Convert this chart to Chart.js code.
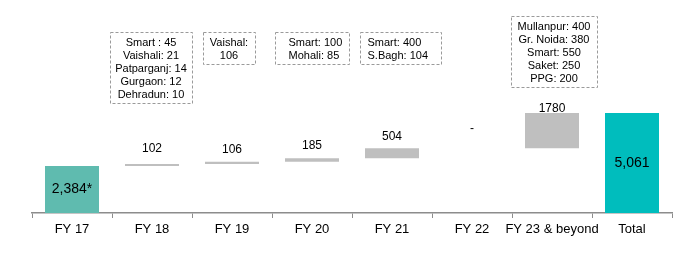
<!DOCTYPE html>
<html>
<head>
<meta charset="utf-8">
<script src="https://cdn.jsdelivr.net/npm/chart.js@4/dist/chart.umd.min.js"></script>
<style>
  html, body { margin: 0; padding: 0; background: #fff; }
  #wrap { width: 690px; height: 262px; }
</style>
</head>
<body>
<div id="wrap"><canvas id="myChart"></canvas></div>
<script>
const categories = ['FY 17', 'FY 18', 'FY 19', 'FY 20', 'FY 21', 'FY 22', 'FY 23 & beyond', 'Total'];
const values = [2384, 102, 106, 185, 504, 0, 1780, 5061];
const valueLabels = ['2,384*', '102', '106', '185', '504', '-', '1780', '5,061'];
const notes = [
  null,
  ['Smart : 45', 'Vaishali: 21', 'Patparganj: 14', 'Gurgaon: 12', 'Dehradun: 10'],
  ['Vaishal:', '106'],
  ['Smart: 100', 'Mohali: 85'],
  ['Smart: 400', 'S.Bagh: 104'],
  null,
  ['Mullanpur: 400', 'Gr. Noida: 380', 'Smart: 550', 'Saket: 250', 'PPG: 200'],
  null
];

// look of things (not data)
const barColors = ['#5FBBAF', '#BFBFBF', '#BFBFBF', '#BFBFBF', '#BFBFBF', '#BFBFBF', '#BFBFBF', '#00BDBD'];
const labelGap = [0, 9, 6, 6, 5, 13, -2, 0];
const noteBoxes = [
  null,
  { dx: -1, top: 32, w: 82, align: 'center' },
  { dx: -3, top: 32, w: 52, align: 'center' },
  { dx: 0, top: 32, w: 74, align: 'left', pad: 13 },
  { dx: 8, top: 32, w: 81, align: 'left', pad: 7 },
  null,
  { dx: 2, top: 16, w: 86, align: 'center' },
  null
];

// waterfall: first and last from zero, the rest stacked on the running total
let running = 0;
const floating = values.map((v, i) => {
  if (i === 0 || i === values.length - 1) {
    running = (i === 0) ? v : running;
    return [0, v];
  }
  const seg = [running, running + v];
  running += v;
  return seg;
});

const labelPlugin = {
  id: 'labels',
  afterDatasetsDraw(chart) {
    const ctx = chart.ctx;
    const meta = chart.getDatasetMeta(0);
    const xs = chart.scales.x;
    ctx.save();
    ctx.fillStyle = '#000';
    ctx.textAlign = 'center';
    meta.data.forEach((bar, i) => {
      if (i === 0 || i === values.length - 1) {
        ctx.font = '14px "Liberation Sans", Arial, sans-serif';
        ctx.textBaseline = 'middle';
        ctx.fillText(valueLabels[i], bar.x, (bar.y + bar.base) / 2);
      } else {
        ctx.font = '12px "Liberation Sans", Arial, sans-serif';
        ctx.textBaseline = 'bottom';
        ctx.fillText(valueLabels[i], bar.x, Math.min(bar.y, bar.base) - labelGap[i]);
      }
    });

    // dashed note boxes
    ctx.font = '11px "Liberation Sans", Arial, sans-serif';
    ctx.textBaseline = 'middle';
    notes.forEach((lines, i) => {
      if (!lines) return;
      const b = noteBoxes[i];
      const cx = xs.getPixelForValue(i) + b.dx;
      const h = lines.length * 13 + 6;
      const left = Math.round(cx - b.w / 2) + 0.5;
      ctx.setLineDash([3, 2]);
      ctx.strokeStyle = '#9A9A9A';
      ctx.lineWidth = 1;
      ctx.strokeRect(left, b.top + 0.5, b.w, h);
      ctx.setLineDash([]);
      ctx.textAlign = b.align;
      lines.forEach((t, k) => {
        const ty = b.top + 3 + 13 * k + 7.5;
        const tx = b.align === 'left' ? left + b.pad : cx;
        ctx.fillText(t, tx, ty);
      });
    });
    ctx.restore();
  }
};

const ctx = document.getElementById('myChart').getContext('2d');
new Chart(ctx, {
  type: 'bar',
  data: {
    labels: categories,
    datasets: [{
      data: floating,
      backgroundColor: barColors,
      borderWidth: 0,
      barPercentage: 0.675,
      categoryPercentage: 1.0
    }]
  },
  options: {
    responsive: true,
    maintainAspectRatio: false,
    animation: false,
    layout: { padding: { left: 32, right: 18, top: 0, bottom: 0 } },
    plugins: {
      legend: { display: false },
      tooltip: { enabled: false }
    },
    scales: {
      x: {
        afterFit: function (scale) { scale.height = 49; },
        grid: {
          offset: true,
          drawOnChartArea: false,
          drawTicks: true,
          tickLength: 5,
          color: '#8C8C8C'
        },
        border: { display: true, color: '#8C8C8C', width: 1.5 },
        ticks: {
          color: '#000',
          padding: 4,
          maxRotation: 0,
          minRotation: 0,
          autoSkip: false,
          font: { family: '"Liberation Sans", Arial, sans-serif', size: 13 }
        }
      },
      y: {
        display: false,
        min: 0,
        max: 10780
      }
    }
  },
  plugins: [labelPlugin]
});
</script>
</body>
</html>
